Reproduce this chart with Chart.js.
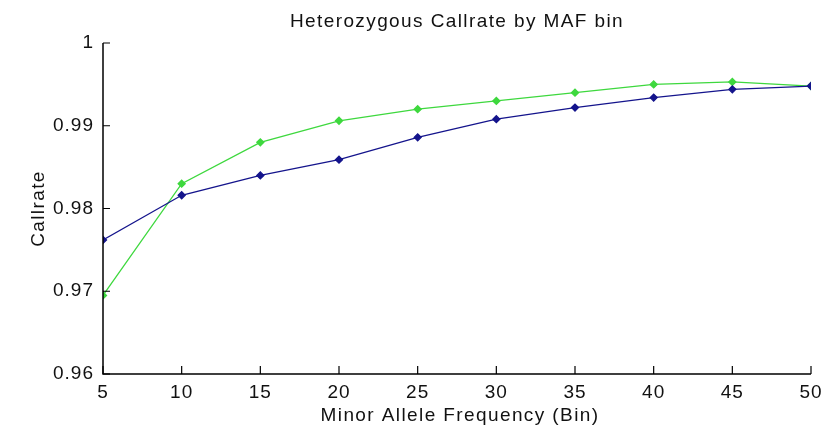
<!DOCTYPE html>
<html lang="en">
<head>
    <meta charset="UTF-8">
    <title>Heterozygous Callrate by MAF bin</title>
    <script src="https://cdn.jsdelivr.net/npm/chart.js"></script>
    <style>
        html, body { margin: 0; padding: 0; background: #fff; }
        #wrap { width: 835px; height: 435px; }
    </style>
</head>
<body>
    <div id="wrap"><canvas id="callrateChart"></canvas></div>

    <script>
        // Data
        const mafBins = [5, 10, 15, 20, 25, 30, 35, 40, 45, 50];
        const blueSeries = [0.9762, 0.9816, 0.9840, 0.9859, 0.9886, 0.9908, 0.9922, 0.9934, 0.9944, 0.9948];
        const greenSeries = [0.9695, 0.9830, 0.9880, 0.9906, 0.9920, 0.9930, 0.9940, 0.9950, 0.9953, 0.9948];
        const xTicks = [5, 10, 15, 20, 25, 30, 35, 40, 45, 50];
        const yTicks = [0.96, 0.97, 0.98, 0.99, 1];

        const FONT = "Liberation Sans";
        const FONT_SIZE = 19;
        const toPoints = (ys) => mafBins.map((x, i) => ({ x: x, y: ys[i] }));

        // MATLAB-style axes: left + bottom lines, ticks pointing inward, labels drawn by hand
        const matlabAxes = {
            id: "matlabAxes",
            beforeDraw(chart) {
                // the reference font is spaced out a bit
                chart.ctx.letterSpacing = "1px";
            },
            afterDraw(chart) {
                const ctx = chart.ctx;
                const xs = chart.scales.x, ys = chart.scales.y;
                const area = chart.chartArea;
                ctx.save();
                ctx.strokeStyle = "#000";
                ctx.lineWidth = 1.5;
                ctx.beginPath();
                ctx.moveTo(area.left, area.top);
                ctx.lineTo(area.left, area.bottom);
                ctx.lineTo(area.right, area.bottom);
                ctx.stroke();
                ctx.lineWidth = 1.2;
                ctx.beginPath();
                xTicks.forEach(v => {
                    const px = xs.getPixelForValue(v);
                    ctx.moveTo(px, area.bottom);
                    ctx.lineTo(px, area.bottom - 8);
                });
                yTicks.forEach(v => {
                    const py = ys.getPixelForValue(v);
                    ctx.moveTo(area.left, py);
                    ctx.lineTo(area.left + 7, py);
                });
                ctx.stroke();

                ctx.fillStyle = "#111";
                ctx.font = FONT_SIZE + "px " + FONT;
                ctx.letterSpacing = "1.4px";
                ctx.textAlign = "center";
                ctx.textBaseline = "alphabetic";
                const midX = (area.left + area.right) / 2;
                ctx.fillText("Heterozygous Callrate by MAF bin", midX, 27);
                ctx.fillText("Minor Allele Frequency (Bin)", midX + 3, 421);
                ctx.translate(44, (area.top + area.bottom) / 2);
                ctx.rotate(-Math.PI / 2);
                ctx.fillText("Callrate", 0, 0);
                ctx.restore();
            }
        };

        const ctx = document.getElementById("callrateChart").getContext("2d");
        new Chart(ctx, {
            type: "line",
            data: {
                datasets: [
                    {
                        label: "Series 1",
                        data: toPoints(blueSeries),
                        borderColor: "#14148c",
                        backgroundColor: "#14148c",
                        borderWidth: 1.3,
                        pointStyle: "rectRot",
                        pointRadius: 3.5,
                        tension: 0
                    },
                    {
                        label: "Series 2",
                        data: toPoints(greenSeries),
                        borderColor: "#3ed83e",
                        backgroundColor: "#3ed83e",
                        borderWidth: 1.3,
                        pointStyle: "rectRot",
                        pointRadius: 3.5,
                        tension: 0
                    }
                ]
            },
            options: {
                responsive: true,
                maintainAspectRatio: false,
                animation: false,
                layout: { padding: { top: 43, right: 24, left: 0, bottom: 0 } },
                plugins: {
                    legend: { display: false },
                    tooltip: { enabled: false },
                    title: { display: false }
                },
                scales: {
                    x: {
                        type: "linear",
                        min: 5,
                        max: 50,
                        afterBuildTicks: (scale) => { scale.ticks = xTicks.map(v => ({ value: v })); },
                        afterFit: (scale) => { scale.height = 61; },
                        grid: { display: false, drawTicks: false },
                        border: { display: false },
                        ticks: {
                            color: "#111",
                            font: { family: FONT, size: FONT_SIZE },
                            padding: 7,
                            maxRotation: 0,
                            callback: (v) => String(v)
                        }
                    },
                    y: {
                        type: "linear",
                        min: 0.96,
                        max: 1,
                        afterBuildTicks: (scale) => { scale.ticks = yTicks.map(v => ({ value: v })); },
                        afterFit: (scale) => { scale.width = 103; },
                        grid: { display: false, drawTicks: false },
                        border: { display: false },
                        ticks: {
                            color: "#111",
                            font: { family: FONT, size: FONT_SIZE },
                            padding: 9,
                            callback: (v) => String(Math.round(v * 100) / 100)
                        }
                    }
                }
            },
            plugins: [matlabAxes]
        });
    </script>
</body>
</html>
